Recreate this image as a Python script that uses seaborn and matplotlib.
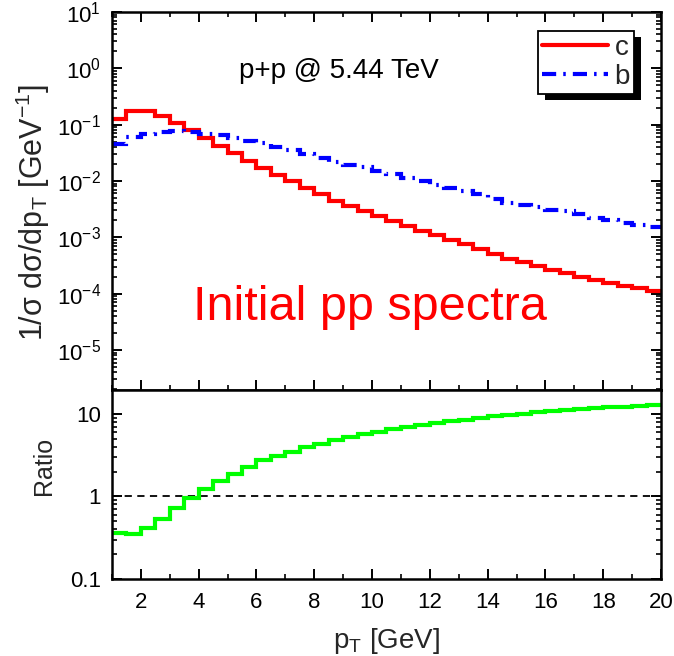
import numpy as np
import pandas as pd
import matplotlib
matplotlib.use("Agg")
import matplotlib.pyplot as plt
from matplotlib.ticker import (MultipleLocator, LogLocator, FixedLocator,
                               FixedFormatter, NullFormatter)
from matplotlib.patches import Rectangle
from matplotlib.transforms import IdentityTransform
import seaborn as sns

# ---- data: 0.5 GeV pT bins from 1 to 20 GeV ----
pt_edges = np.arange(1.0, 20.01, 0.5)

charm_spectrum = [0.124, 0.175, 0.175, 0.142, 0.108, 0.080, 0.058, 0.042, 0.031, 0.0229,
                  0.0167, 0.0127, 0.0098, 0.0076, 0.0058, 0.0044, 0.0036, 0.0029, 0.0024, 0.00194,
                  0.00158, 0.0013, 0.0011, 0.00091, 0.00075, 0.00061, 0.0005, 0.00042, 0.00036, 0.00031,
                  0.00026, 0.00023, 0.0002, 0.000174, 0.000156, 0.000138, 0.000124, 0.000112]

bottom_spectrum = [0.045, 0.061, 0.068, 0.075, 0.078, 0.074, 0.069, 0.065, 0.058, 0.052,
                   0.047, 0.040, 0.036, 0.030, 0.026, 0.022, 0.019, 0.0174, 0.0152, 0.0131,
                   0.0115, 0.0098, 0.0086, 0.0076, 0.0066, 0.0058, 0.0047, 0.0041, 0.0037, 0.0035,
                   0.0031, 0.0029, 0.0026, 0.0022, 0.0020, 0.0018, 0.00165, 0.0015]

ratio_b_over_c = [0.36, 0.35, 0.42, 0.54, 0.72, 0.96, 1.23, 1.56, 1.88, 2.27,
                  2.75, 3.1, 3.5, 3.95, 4.35, 4.8, 5.2, 5.7, 6.1, 6.5,
                  6.9, 7.3, 7.7, 8.1, 8.5, 9.0, 9.4, 9.8, 10.1, 10.5,
                  10.8, 11.1, 11.4, 11.7, 12.0, 12.3, 12.6, 13.0]

series_labels = ["c", "b"]
pt_ticks = [2, 4, 6, 8, 10, 12, 14, 16, 18, 20]
spectrum_ticks = [1e-5, 1e-4, 1e-3, 1e-2, 1e-1, 1e0, 1e1]
ratio_ticks = [0.1, 1, 10]
ratio_tick_labels = ["0.1", "1", "10"]


def step_frame(values):
    # repeat the last bin content so the step reaches the upper edge
    return pd.DataFrame({"pt": pt_edges, "y": list(values) + [values[-1]]})


sns.set_theme(style="ticks")
plt.rcParams["font.family"] = ["Liberation Sans", "DejaVu Sans"]
plt.rcParams["mathtext.default"] = "regular"

fig = plt.figure(figsize=(6.74, 6.56), dpi=100)
fig.patch.set_facecolor("white")
W, H = 674, 656
ax_top = fig.add_axes([112 / W, 1 - 390 / H, 549 / W, 378 / H])
ax_bot = fig.add_axes([112 / W, 1 - 579 / H, 549 / W, 189 / H], sharex=ax_top)

line_kw = dict(estimator=None, sort=False, drawstyle="steps-post", legend=False)

sns.lineplot(data=step_frame(charm_spectrum), x="pt", y="y", ax=ax_top,
             color="#ff0000", linewidth=3.0, label=series_labels[0], **line_kw)
sns.lineplot(data=step_frame(bottom_spectrum), x="pt", y="y", ax=ax_top,
             color="#0000ff", linewidth=3.0, label=series_labels[1], **line_kw)
c_line, b_line = ax_top.lines[0], ax_top.lines[1]
b_line.set_dashes((3.4, 1.7, 0.6, 1.7))
for ln in (c_line, b_line):
    ln.set_solid_joinstyle("miter")
    ln.set_dash_joinstyle("miter")
    ln.set_dash_capstyle("butt")

sns.lineplot(data=step_frame(ratio_b_over_c), x="pt", y="y", ax=ax_bot,
             color="#00ff00", linewidth=3.0, **line_kw)
ax_bot.lines[0].set_solid_joinstyle("miter")
ax_bot.axhline(1.0, color="black", linewidth=1.3, dashes=(4, 3), zorder=1)

# ---- axes scales and ticks ----
for ax in (ax_top, ax_bot):
    ax.set_yscale("log")
    ax.set_xlim(1, 20)
    ax.xaxis.set_major_locator(FixedLocator(pt_ticks))
    ax.xaxis.set_minor_locator(MultipleLocator(1))
    ax.yaxis.set_minor_locator(LogLocator(base=10, subs=np.arange(2, 10)))
    ax.yaxis.set_minor_formatter(NullFormatter())
    for s in ax.spines.values():
        s.set_visible(True)
        s.set_linewidth(1.8)
        s.set_color("black")
    ax.tick_params(which="major", direction="in", length=7, width=1.4,
                   labelsize=16, colors="black")
    ax.tick_params(which="minor", direction="in", length=3.8, width=1.2, colors="black")
    ax.set_facecolor("white")

ax_top.set_ylim(10 ** -5.71, 10)
ax_top.yaxis.set_major_locator(FixedLocator(spectrum_ticks))
ax_top.tick_params(which="both", top=True, right=True, labelbottom=False)
ax_top.tick_params(axis="y", which="major", pad=8)
ax_top.set_xlabel("")
ax_top.set_ylabel("1/σ dσ/dp$_T$ [GeV$^{-1}$]", fontsize=22)
ax_top.yaxis.set_label_coords(-0.109, 0.47)

ax_bot.set_ylim(0.1, 10 ** 1.29)
ax_bot.yaxis.set_major_locator(FixedLocator(ratio_ticks))
ax_bot.yaxis.set_major_formatter(FixedFormatter(ratio_tick_labels))
ax_bot.tick_params(which="both", top=False, right=True)
ax_bot.tick_params(axis="y", which="major", pad=8)
ax_bot.tick_params(axis="x", which="major", pad=9)
ax_bot.set_xlabel("p$_T$ [GeV]", fontsize=20)
ax_bot.xaxis.set_label_coords(0.5, -0.25)
ax_bot.set_ylabel("Ratio", fontsize=18)
ax_bot.yaxis.set_label_coords(-0.102, 0.598)

# ---- annotations ----
ax_top.text(0.414, 0.825, "p+p @ 5.44 TeV", transform=ax_top.transAxes,
            ha="center", va="baseline", fontsize=20, color="black")
ax_top.text(0.47, 0.185, "Initial pp spectra", transform=ax_top.transAxes,
            ha="center", va="baseline", fontsize=35, color="#ff0000")

leg = ax_top.legend(handles=[c_line, b_line], labels=series_labels,
                    loc="upper right", bbox_to_anchor=(0.951, 0.950), borderaxespad=0,
                    fontsize=20, frameon=True, fancybox=False, framealpha=1,
                    edgecolor="black", handlelength=2.35, handletextpad=0.25,
                    labelspacing=0.1, borderpad=0.15)
leg.get_frame().set_linewidth(1.3)

# drop shadow behind the legend box
fig.canvas.draw()
bb = leg.get_window_extent()
shadow = Rectangle((bb.x0 + 7, bb.y0 - 6), bb.width, bb.height,
                   transform=IdentityTransform(), facecolor="black",
                   edgecolor="none", zorder=4.5)
ax_top.add_artist(shadow)

fig.savefig("out.png", dpi=100, facecolor="white")
